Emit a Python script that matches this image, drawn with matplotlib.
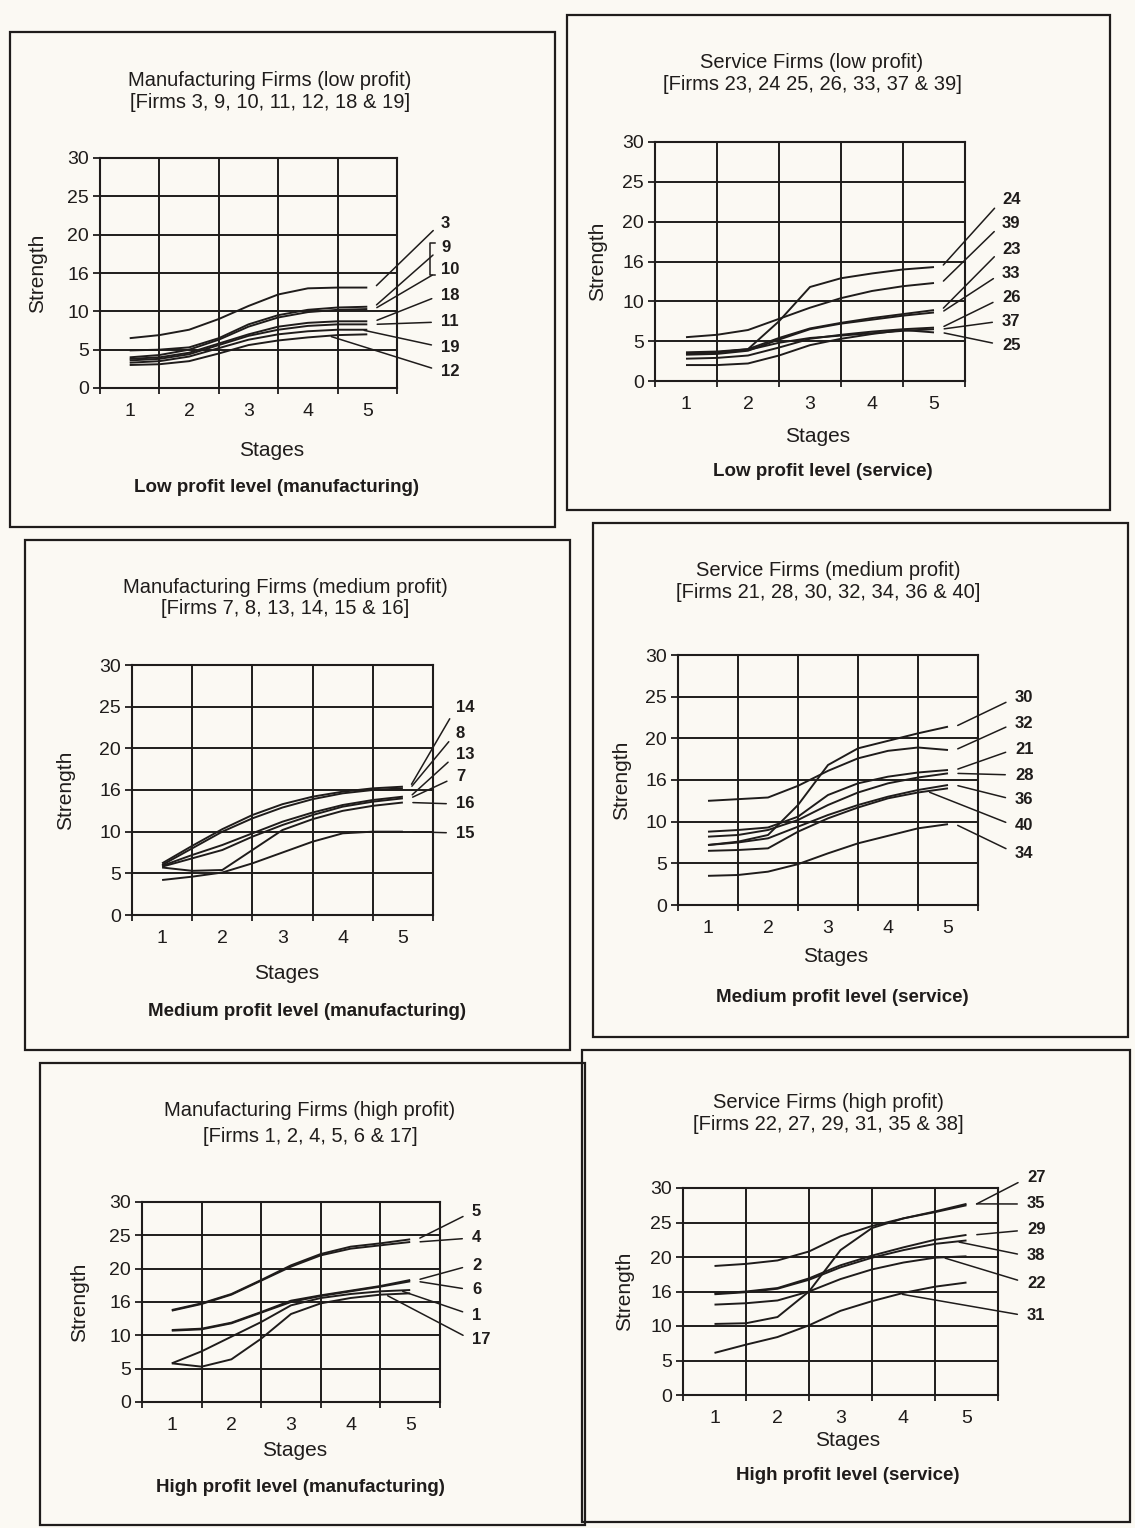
import numpy as np
import matplotlib
matplotlib.use("Agg")
import matplotlib.pyplot as plt
from matplotlib.patches import Rectangle

plt.rcParams['font.family'] = ['Liberation Sans', 'DejaVu Sans']

W, H = 1135, 1528
PAPER = '#fbf9f3'
INK = '#1f1c1b'

# stages read every half step off the picture
stages = [1, 1.5, 2, 2.5, 3, 3.5, 4, 4.5, 5]
stage_labels = ['1', '2', '3', '4', '5']
ytick_pos = [0, 5, 10, 15, 20, 25, 30]
ytick_labels = ['0', '5', '10', '16', '20', '25', '30']

# Manufacturing, low profit
mlow_firms = ['3', '9', '10', '18', '11', '19', '12']
mlow_values = [
    [6.5, 6.9, 7.6, 9.0, 10.7, 12.2, 13.0, 13.1, 13.1],
    [4.9, 5.0, 5.3, 6.5, 8.3, 9.5, 10.2, 10.5, 10.6],
    [4.0, 4.3, 5.0, 6.3, 8.0, 9.2, 9.9, 10.2, 10.3],
    [3.8, 4.0, 4.6, 5.8, 7.0, 8.0, 8.5, 8.7, 8.7],
    [3.6, 3.8, 4.4, 5.6, 6.8, 7.6, 8.1, 8.3, 8.3],
    [3.3, 3.5, 4.1, 5.2, 6.3, 7.0, 7.4, 7.6, 7.6],
    [3.0, 3.1, 3.5, 4.5, 5.6, 6.2, 6.6, 6.9, 7.0],
]

# Service, low profit
slow_firms = ['24', '39', '23', '33', '26', '37', '25']
slow_values = [
    [3.4, 3.6, 4.0, 7.5, 11.8, 12.9, 13.5, 14.0, 14.3],
    [5.5, 5.8, 6.4, 7.8, 9.2, 10.4, 11.3, 11.9, 12.3],
    [3.6, 3.7, 4.0, 5.4, 6.6, 7.3, 7.9, 8.4, 8.9],
    [3.3, 3.4, 3.8, 5.2, 6.5, 7.2, 7.7, 8.2, 8.6],
    [2.8, 2.9, 3.2, 4.2, 5.3, 5.8, 6.2, 6.5, 6.7],
    [3.5, 3.6, 3.9, 4.8, 5.4, 5.7, 6.0, 6.3, 6.5],
    [2.0, 2.0, 2.2, 3.2, 4.5, 5.3, 5.9, 6.4, 6.1],
]

# Manufacturing, medium profit
mmed_firms = ['14', '8', '13', '7', '16', '15']
mmed_values = [
    [6.2, 8.3, 10.3, 12.0, 13.3, 14.2, 14.8, 15.2, 15.4],
    [6.0, 8.0, 10.0, 11.6, 12.9, 13.9, 14.6, 15.0, 15.2],
    [5.9, 7.2, 8.4, 9.8, 11.2, 12.3, 13.2, 13.8, 14.2],
    [5.8, 6.8, 7.8, 9.4, 10.8, 12.0, 13.0, 13.6, 14.0],
    [5.7, 5.3, 5.4, 7.8, 10.2, 11.5, 12.5, 13.1, 13.5],
    [4.2, 4.6, 5.1, 6.2, 7.5, 8.8, 9.8, 10.0, 10.0],
]

# Service, medium profit
smed_firms = ['30', '32', '21', '28', '36', '40', '34']
smed_values = [
    [7.2, 7.6, 8.4, 12.0, 16.8, 18.8, 19.7, 20.6, 21.4],
    [12.5, 12.7, 12.9, 14.3, 16.1, 17.6, 18.5, 18.9, 18.6],
    [8.8, 9.0, 9.3, 10.6, 13.2, 14.6, 15.4, 15.9, 16.2],
    [8.2, 8.4, 9.0, 10.2, 12.0, 13.5, 14.6, 15.3, 15.8],
    [7.2, 7.5, 8.0, 9.4, 10.8, 12.0, 13.0, 13.8, 14.4],
    [6.5, 6.6, 6.8, 8.8, 10.4, 11.7, 12.8, 13.5, 14.0],
    [3.5, 3.6, 4.0, 4.9, 6.2, 7.4, 8.3, 9.2, 9.7],
]

# Manufacturing, high profit
mhigh_firms = ['5', '4', '2', '6', '1', '17']
mhigh_values = [
    [13.8, 14.8, 16.2, 18.3, 20.5, 22.2, 23.3, 23.8, 24.4],
    [13.7, 14.7, 16.1, 18.2, 20.3, 22.0, 23.0, 23.5, 24.0],
    [10.8, 11.0, 11.9, 13.5, 15.2, 16.0, 16.7, 17.4, 18.3],
    [10.7, 10.9, 11.8, 13.4, 15.0, 15.9, 16.6, 17.3, 18.1],
    [5.8, 7.6, 9.8, 12.0, 14.5, 15.6, 16.2, 16.6, 16.8],
    [5.8, 5.3, 6.4, 9.5, 13.2, 14.8, 15.6, 16.1, 16.3],
]

# Service, high profit
shigh_firms = ['27', '35', '29', '38', '22', '31']
shigh_values = [
    [18.7, 19.0, 19.5, 20.8, 23.0, 24.5, 25.6, 26.5, 27.5],
    [10.3, 10.4, 11.3, 15.0, 21.0, 24.2, 25.6, 26.6, 27.7],
    [14.7, 15.0, 15.5, 16.9, 18.8, 20.2, 21.4, 22.5, 23.2],
    [14.6, 14.9, 15.4, 16.7, 18.5, 19.9, 21.0, 21.9, 22.4],
    [13.1, 13.3, 13.7, 15.0, 16.8, 18.2, 19.2, 19.9, 20.1],
    [6.1, 7.3, 8.4, 10.1, 12.2, 13.6, 14.8, 15.7, 16.3],
]


def fx(x):
    return x / W


def fy(y):
    return 1 - y / H


panels = [
    dict(firms=mlow_firms, values=mlow_values,
         title=['Manufacturing Firms (low profit)', '[Firms 3, 9, 10, 11, 12, 18 & 19]'],
         caption='Low profit level (manufacturing)',
         box=(10, 32, 555, 527), axes=(100, 158, 397, 388),
         title_xy=(270, 80, 103), stages_xy=(272, 450), caption_xy=(276, 488),
         ylabel_x=38, label_x=441, label_y=[223, 248, 270, 295, 322, 347, 371],
         leader_from={'12': 4.35, '19': 4.9}, bracket=(430, 243, 275)),
    dict(firms=slow_firms, values=slow_values,
         title=['Service Firms (low profit)', '[Firms 23, 24 25, 26, 33, 37 & 39]'],
         caption='Low profit level (service)',
         box=(567, 15, 1110, 510), axes=(655, 142, 965, 381),
         title_xy=(812, 62, 84), stages_xy=(818, 436), caption_xy=(823, 471),
         ylabel_x=598, label_x=1002, label_y=[200, 224, 249, 273, 298, 321, 345],
         leader_from={}, bracket=None),
    dict(firms=mmed_firms, values=mmed_values,
         title=['Manufacturing Firms (medium profit)', '[Firms 7, 8, 13, 14, 15 & 16]'],
         caption='Medium profit level (manufacturing)',
         box=(25, 540, 570, 1050), axes=(132, 665, 433, 915),
         title_xy=(285, 587, 608), stages_xy=(287, 973), caption_xy=(307, 1012),
         ylabel_x=66, label_x=456, label_y=[708, 733, 755, 777, 804, 833],
         leader_from={}, bracket=None),
    dict(firms=smed_firms, values=smed_values,
         title=['Service Firms (medium profit)', '[Firms 21, 28, 30, 32, 34, 36 & 40]'],
         caption='Medium profit level (service)',
         box=(593, 523, 1128, 1037), axes=(678, 655, 978, 905),
         title_xy=(828, 570, 592), stages_xy=(836, 956), caption_xy=(842, 998),
         ylabel_x=622, label_x=1015, label_y=[698, 723, 749, 775, 800, 826, 853],
         leader_from={'40': 4.65}, bracket=None),
    dict(firms=mhigh_firms, values=mhigh_values,
         title=['Manufacturing Firms (high profit)', '[Firms 1, 2, 4, 5, 6 & 17]'],
         caption='High profit level (manufacturing)',
         box=(40, 1063, 585, 1525), axes=(142, 1202, 440, 1402),
         title_xy=(310, 1110, 1137), stages_xy=(295, 1450), caption_xy=(300, 1487),
         ylabel_x=80, label_x=472, label_y=[1212, 1238, 1265, 1290, 1315, 1340],
         leader_from={'17': 4.58, '1': 4.83}, bracket=None),
    dict(firms=shigh_firms, values=shigh_values,
         title=['Service Firms (high profit)', '[Firms 22, 27, 29, 31, 35 & 38]'],
         caption='High profit level (service)',
         box=(582, 1050, 1130, 1522), axes=(683, 1188, 998, 1395),
         title_xy=(828, 1103, 1125), stages_xy=(848, 1440), caption_xy=(848, 1475),
         ylabel_x=625, label_x=1027, label_y=[1178, 1204, 1230, 1256, 1283, 1316],
         leader_from={'31': 3.94, '22': 4.62, '38': 4.84}, bracket=None),
]

fig = plt.figure(figsize=(W / 100, H / 100), dpi=100, facecolor=PAPER)

for p in panels:
    x0, y0, x1, y1 = p['box']
    fig.patches.append(Rectangle((fx(x0), fy(y1)), fx(x1 - x0), (y1 - y0) / H,
                                 transform=fig.transFigure, fill=False,
                                 edgecolor=INK, linewidth=1.6))

    l, t, r, b = p['axes']
    ax = fig.add_axes([fx(l), fy(b), fx(r - l), (b - t) / H])
    ax.set_facecolor(PAPER)

    for firm, vals in zip(p['firms'], p['values']):
        ax.plot(stages, vals, color=INK, linewidth=1.4, solid_capstyle='butt')

    ax.set_xlim(0.5, 5.5)
    ax.set_ylim(0, 30)
    ax.set_xticks([0.5, 1.5, 2.5, 3.5, 4.5, 5.5])
    ax.set_xticklabels([])
    ax.set_xticks([1, 2, 3, 4, 5], minor=True)
    ax.set_xticklabels(stage_labels, minor=True)
    ax.set_yticks(ytick_pos)
    ax.set_yticklabels(ytick_labels)
    ax.tick_params(axis='x', which='major', direction='out', length=4, width=1.3, color=INK)
    ax.tick_params(axis='x', which='minor', length=0, pad=11, labelsize=14, labelcolor=INK)
    ax.tick_params(axis='y', direction='out', length=5, width=1.3, color=INK,
                   pad=3, labelsize=14, labelcolor=INK)
    ax.grid(True, which='major', color=INK, linewidth=1.4)
    for s in ax.spines.values():
        s.set_color(INK)
        s.set_linewidth(1.5)

    # leaders and firm numbers
    for firm, vals, ly in zip(p['firms'], p['values'], p['label_y']):
        sx = p['leader_from'].get(firm, 5.12)
        sy = np.interp(sx, stages, vals)
        ax.annotate(firm, xy=(sx, sy), xycoords='data',
                    xytext=(fx(p['label_x']), fy(ly)), textcoords='figure fraction',
                    fontsize=12, fontweight='bold', color=INK, va='center', ha='left',
                    annotation_clip=False,
                    arrowprops=dict(arrowstyle='-', color=INK, lw=1.1,
                                    shrinkA=5, shrinkB=2, relpos=(0, 0.5)))

    if p['bracket'] is not None:
        bx, by0, by1 = p['bracket']
        fig.add_artist(plt.Line2D([fx(bx + 5), fx(bx), fx(bx), fx(bx + 5)],
                                  [fy(by0), fy(by0), fy(by1), fy(by1)],
                                  transform=fig.transFigure, color=INK, lw=1.1))

    tx, ty0, ty1 = p['title_xy']
    fig.text(fx(tx), fy(ty0), p['title'][0], ha='center', va='center', fontsize=14.5, color=INK)
    fig.text(fx(tx), fy(ty1), p['title'][1], ha='center', va='center', fontsize=14.5, color=INK)
    fig.text(fx(p['stages_xy'][0]), fy(p['stages_xy'][1]), 'Stages',
             ha='center', va='center', fontsize=15, color=INK)
    fig.text(fx(p['caption_xy'][0]), fy(p['caption_xy'][1]), p['caption'],
             ha='center', va='center', fontsize=13.5, fontweight='bold', color=INK)
    fig.text(fx(p['ylabel_x']), fy((t + b) / 2), 'Strength', rotation=90,
             ha='center', va='center', fontsize=15, color=INK)

fig.savefig('out.png', dpi=100, facecolor=PAPER)
